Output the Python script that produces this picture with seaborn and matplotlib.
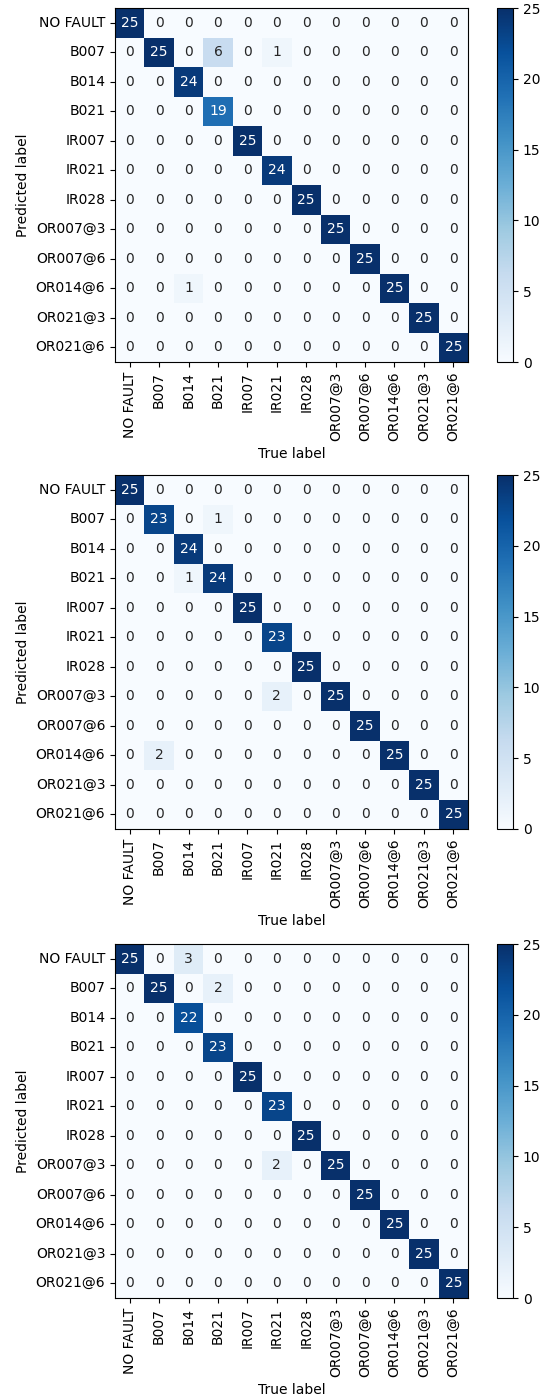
import numpy as np
import pandas as pd
import matplotlib
matplotlib.use("Agg")
import matplotlib.pyplot as plt
from matplotlib.patches import Rectangle
import seaborn as sns

labels = ["NO FAULT", "B007", "B014", "B021", "IR007", "IR021", "IR028",
          "OR007@3", "OR007@6", "OR014@6", "OR021@3", "OR021@6"]

# rows = predicted label, columns = true label
cm_a = [
    [25, 0, 0, 0, 0, 0, 0, 0, 0, 0, 0, 0],
    [0, 25, 0, 6, 0, 1, 0, 0, 0, 0, 0, 0],
    [0, 0, 24, 0, 0, 0, 0, 0, 0, 0, 0, 0],
    [0, 0, 0, 19, 0, 0, 0, 0, 0, 0, 0, 0],
    [0, 0, 0, 0, 25, 0, 0, 0, 0, 0, 0, 0],
    [0, 0, 0, 0, 0, 24, 0, 0, 0, 0, 0, 0],
    [0, 0, 0, 0, 0, 0, 25, 0, 0, 0, 0, 0],
    [0, 0, 0, 0, 0, 0, 0, 25, 0, 0, 0, 0],
    [0, 0, 0, 0, 0, 0, 0, 0, 25, 0, 0, 0],
    [0, 0, 1, 0, 0, 0, 0, 0, 0, 25, 0, 0],
    [0, 0, 0, 0, 0, 0, 0, 0, 0, 0, 25, 0],
    [0, 0, 0, 0, 0, 0, 0, 0, 0, 0, 0, 25],
]
cm_b = [
    [25, 0, 0, 0, 0, 0, 0, 0, 0, 0, 0, 0],
    [0, 23, 0, 1, 0, 0, 0, 0, 0, 0, 0, 0],
    [0, 0, 24, 0, 0, 0, 0, 0, 0, 0, 0, 0],
    [0, 0, 1, 24, 0, 0, 0, 0, 0, 0, 0, 0],
    [0, 0, 0, 0, 25, 0, 0, 0, 0, 0, 0, 0],
    [0, 0, 0, 0, 0, 23, 0, 0, 0, 0, 0, 0],
    [0, 0, 0, 0, 0, 0, 25, 0, 0, 0, 0, 0],
    [0, 0, 0, 0, 0, 2, 0, 25, 0, 0, 0, 0],
    [0, 0, 0, 0, 0, 0, 0, 0, 25, 0, 0, 0],
    [0, 2, 0, 0, 0, 0, 0, 0, 0, 25, 0, 0],
    [0, 0, 0, 0, 0, 0, 0, 0, 0, 0, 25, 0],
    [0, 0, 0, 0, 0, 0, 0, 0, 0, 0, 0, 25],
]
cm_c = [
    [25, 0, 3, 0, 0, 0, 0, 0, 0, 0, 0, 0],
    [0, 25, 0, 2, 0, 0, 0, 0, 0, 0, 0, 0],
    [0, 0, 22, 0, 0, 0, 0, 0, 0, 0, 0, 0],
    [0, 0, 0, 23, 0, 0, 0, 0, 0, 0, 0, 0],
    [0, 0, 0, 0, 25, 0, 0, 0, 0, 0, 0, 0],
    [0, 0, 0, 0, 0, 23, 0, 0, 0, 0, 0, 0],
    [0, 0, 0, 0, 0, 0, 25, 0, 0, 0, 0, 0],
    [0, 0, 0, 0, 0, 2, 0, 25, 0, 0, 0, 0],
    [0, 0, 0, 0, 0, 0, 0, 0, 25, 0, 0, 0],
    [0, 0, 0, 0, 0, 0, 0, 0, 0, 25, 0, 0],
    [0, 0, 0, 0, 0, 0, 0, 0, 0, 0, 25, 0],
    [0, 0, 0, 0, 0, 0, 0, 0, 0, 0, 0, 25],
]
matrices = [cm_a, cm_b, cm_c]

plt.rcParams['font.family'] = ['DejaVu Sans']
fig = plt.figure(figsize=(5.45, 13.94), dpi=100)
W, H = 545.0, 1394.0
tops = [8, 475, 944]
panel_h = 354

for top, cm in zip(tops, matrices):
    bottom = top + panel_h
    ax = fig.add_axes([115 / W, 1 - bottom / H, 353 / W, panel_h / H])
    cax = fig.add_axes([497 / W, 1 - bottom / H, 16 / W, panel_h / H])
    df = pd.DataFrame(cm, index=labels, columns=labels)
    sns.heatmap(df, ax=ax, cbar_ax=cax, cmap="Blues", vmin=0, vmax=25,
                annot=True, fmt="d", annot_kws={"fontsize": 10},
                square=False, linewidths=0)
    for s in ax.spines.values():
        s.set_visible(True)
        s.set_linewidth(0.8)
        s.set_color("black")
    ax.tick_params(axis="both", length=3.5, width=0.8, labelsize=10)
    ax.set_xticklabels(labels, rotation=90)
    ax.set_yticklabels(labels, rotation=0)
    ax.set_xlabel("True label", fontsize=10)
    ax.set_ylabel("Predicted label", fontsize=10)
    cb = ax.collections[0].colorbar
    cb.outline.set_visible(True)
    cb.outline.set_linewidth(0.8)
    cb.outline.set_edgecolor("black")
    cb.set_ticks([0, 5, 10, 15, 20, 25])
    cax.tick_params(length=3.5, width=0.8, labelsize=10)

# panels in the reference are cropped just below the x-axis label
for cut in [458, 926]:
    fig.patches.append(Rectangle((0, 1 - (cut + 10) / H), 1, 10 / H,
                                 transform=fig.transFigure, facecolor="white",
                                 edgecolor="none", zorder=10))

fig.savefig("out.png", dpi=100)
